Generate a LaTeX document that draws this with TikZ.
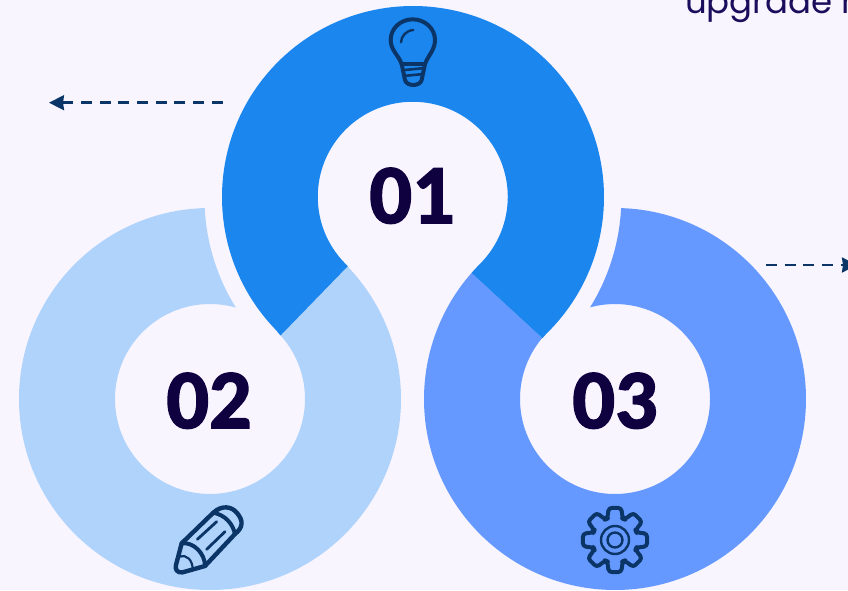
\documentclass[tikz,border=0pt]{standalone}
\usepackage{fontspec}
\setmainfont{Poppins}
\newfontfamily\digitfont[BoldFeatures={FakeBold=2}]{Carlito}
\usetikzlibrary{arrows.meta,calc}
\definecolor{pagebg}{HTML}{F8F5FF}
\definecolor{ringone}{HTML}{1C86EF}
\definecolor{ringtwo}{HTML}{B0D3FB}
\definecolor{ringthree}{HTML}{6699FF}
\definecolor{iconblue}{HTML}{0A3566}
\definecolor{digitblue}{HTML}{0F0040}
\definecolor{textblue}{HTML}{1A0E5C}

\begin{document}
\begin{tikzpicture}[>={Stealth[length=15pt,width=15pt,inset=1pt]},x=1pt,y=1pt]
    \tikzstyle{number}=[inner sep=0pt,anchor=base,text=digitblue,font=\digitfont\bfseries\fontsize{84}{84}\selectfont]
    \tikzstyle{pointer}=[->,iconblue,line width=2.4pt,dash pattern=on 11pt off 7.7pt]
    \tikzstyle{icon}=[iconblue,line width=4pt,line join=round,line cap=round]
    \useasboundingbox (0,0) rectangle (848,590);
    \clip (0,0) rectangle (848,590);
    \fill[pagebg] (0,0) rectangle (848,590);
    \coordinate (centerA) at (413,393);
    \coordinate (centerB) at (210,191);
    \coordinate (centerC) at (615,191);

    \fill[ringthree] ($(centerC)+(88.2:191pt)$)
      arc[start angle=88.2,end angle=-221.3,radius=191pt]
      -- ($(centerC)+(140:95pt)$)
      arc[start angle=140,end angle=465.2,radius=95pt]
      arc[start angle=-31.8,end angle=-3,radius=208pt] -- cycle;
    \fill[ringtwo] ($(centerB)+(91.5:191pt)$)
      arc[start angle=91.5,end angle=403.9,radius=191pt]
      -- ($(centerB)+(42:95pt)$)
      arc[start angle=42,end angle=-285.8,radius=95pt]
      arc[start angle=211.9,end angle=183.3,radius=208pt] -- cycle;
    \fill[ringone] ($(centerA)+(224.9:191pt)$)
      arc[start angle=224.9,end angle=-45,radius=191pt]
      arc[start angle=135,end angle=140,radius=95pt]
      -- ($(centerC)+(138.7:191pt)$)
      arc[start angle=138.7,end angle=135,radius=191pt]
      arc[start angle=-45,end angle=224.9,radius=95pt]
      arc[start angle=44.9,end angle=43.9,radius=191pt]
      -- ($(centerB)+(42:95pt)$)
      arc[start angle=42,end angle=44.9,radius=95pt] -- cycle;

    \node[number] (one) at (412,367) {01};
    \node[number] (two) at (209,162) {02};
    \node[number] (three) at (615,162) {03};

    \coordinate (leftStart) at (222.7,487.3);
    \coordinate (leftEnd) at (49,487.3);
    \coordinate (rightStart) at (766,325);
    \coordinate (rightEnd) at (857,325);
    \draw[pointer] (leftStart) -- (leftEnd);
    \draw[pointer] (rightStart) -- (rightEnd);

    \node[inner sep=0pt,anchor=base west,text=textblue,font=\fontsize{34}{34}\selectfont] (upgrade) at (685,576) {upgrade r};

    \begin{scope}[shift={(360,590)},x=0.3333pt,y=-0.3333pt]
      \draw[icon] (125,192) .. controls (115,165) and (92,150) .. (92,120)
        .. controls (92,85) and (122,58) .. (158,58)
        .. controls (194,58) and (225,85) .. (225,120)
        .. controls (225,150) and (205,165) .. (195,192)
        -- (185,240) .. controls (180,260) and (140,260) .. (135,240) -- cycle;
      \draw[icon] (125,192) -- (195,192);
      \draw[icon,line width=2.6pt] (134,210) -- (186,205);
      \draw[icon,line width=2.6pt] (140,227) -- (182,223);
      \draw[icon,line width=2.4pt] (123,127) .. controls (124,108) and (138,92) .. (160,90);
    \end{scope}

    \begin{scope}[shift={(160,100)},x=0.3333pt,y=-0.3333pt]
      \draw[icon,line width=4.4pt] (65,160) -- (160,68) .. controls (185,45) and (215,48) .. (232,70)
        .. controls (250,92) and (250,112) .. (225,132)
        -- (135,228) -- (68,247) .. controls (52,250) and (44,238) .. (48,225) -- cycle;
      \draw[icon] (160,68) .. controls (195,75) and (218,100) .. (225,132);
      \draw[icon] (65,160) .. controls (100,155) and (135,190) .. (135,228);
      \draw[icon,line width=2.8pt] (112,148) -- (170,95);
      \draw[icon,line width=2.8pt] (140,178) -- (195,125);
      \draw[icon,line width=2.2pt] (60,200) .. controls (80,193) and (98,210) .. (98,238);
    \end{scope}

    \begin{scope}[shift={(565,100)},x=0.3333pt,y=-0.3333pt]
      \draw[icon,rounded corners=3pt] (150,150) ++(-20:68)
        \foreach \angle in {0,45,...,315} {
          -- ($(150,150)+(\angle-20:68)$) -- ($(150,150)+(\angle-11:98)$)
          -- ($(150,150)+(\angle+11:98)$) -- ($(150,150)+(\angle+20:68)$)
        } -- cycle;
      \draw[icon,line width=2.4pt] (150,150) circle[radius=14pt];
      \draw[icon,line width=2.4pt] (150,150) circle[radius=7.5pt];
    \end{scope}
  \end{tikzpicture}
\end{document}
